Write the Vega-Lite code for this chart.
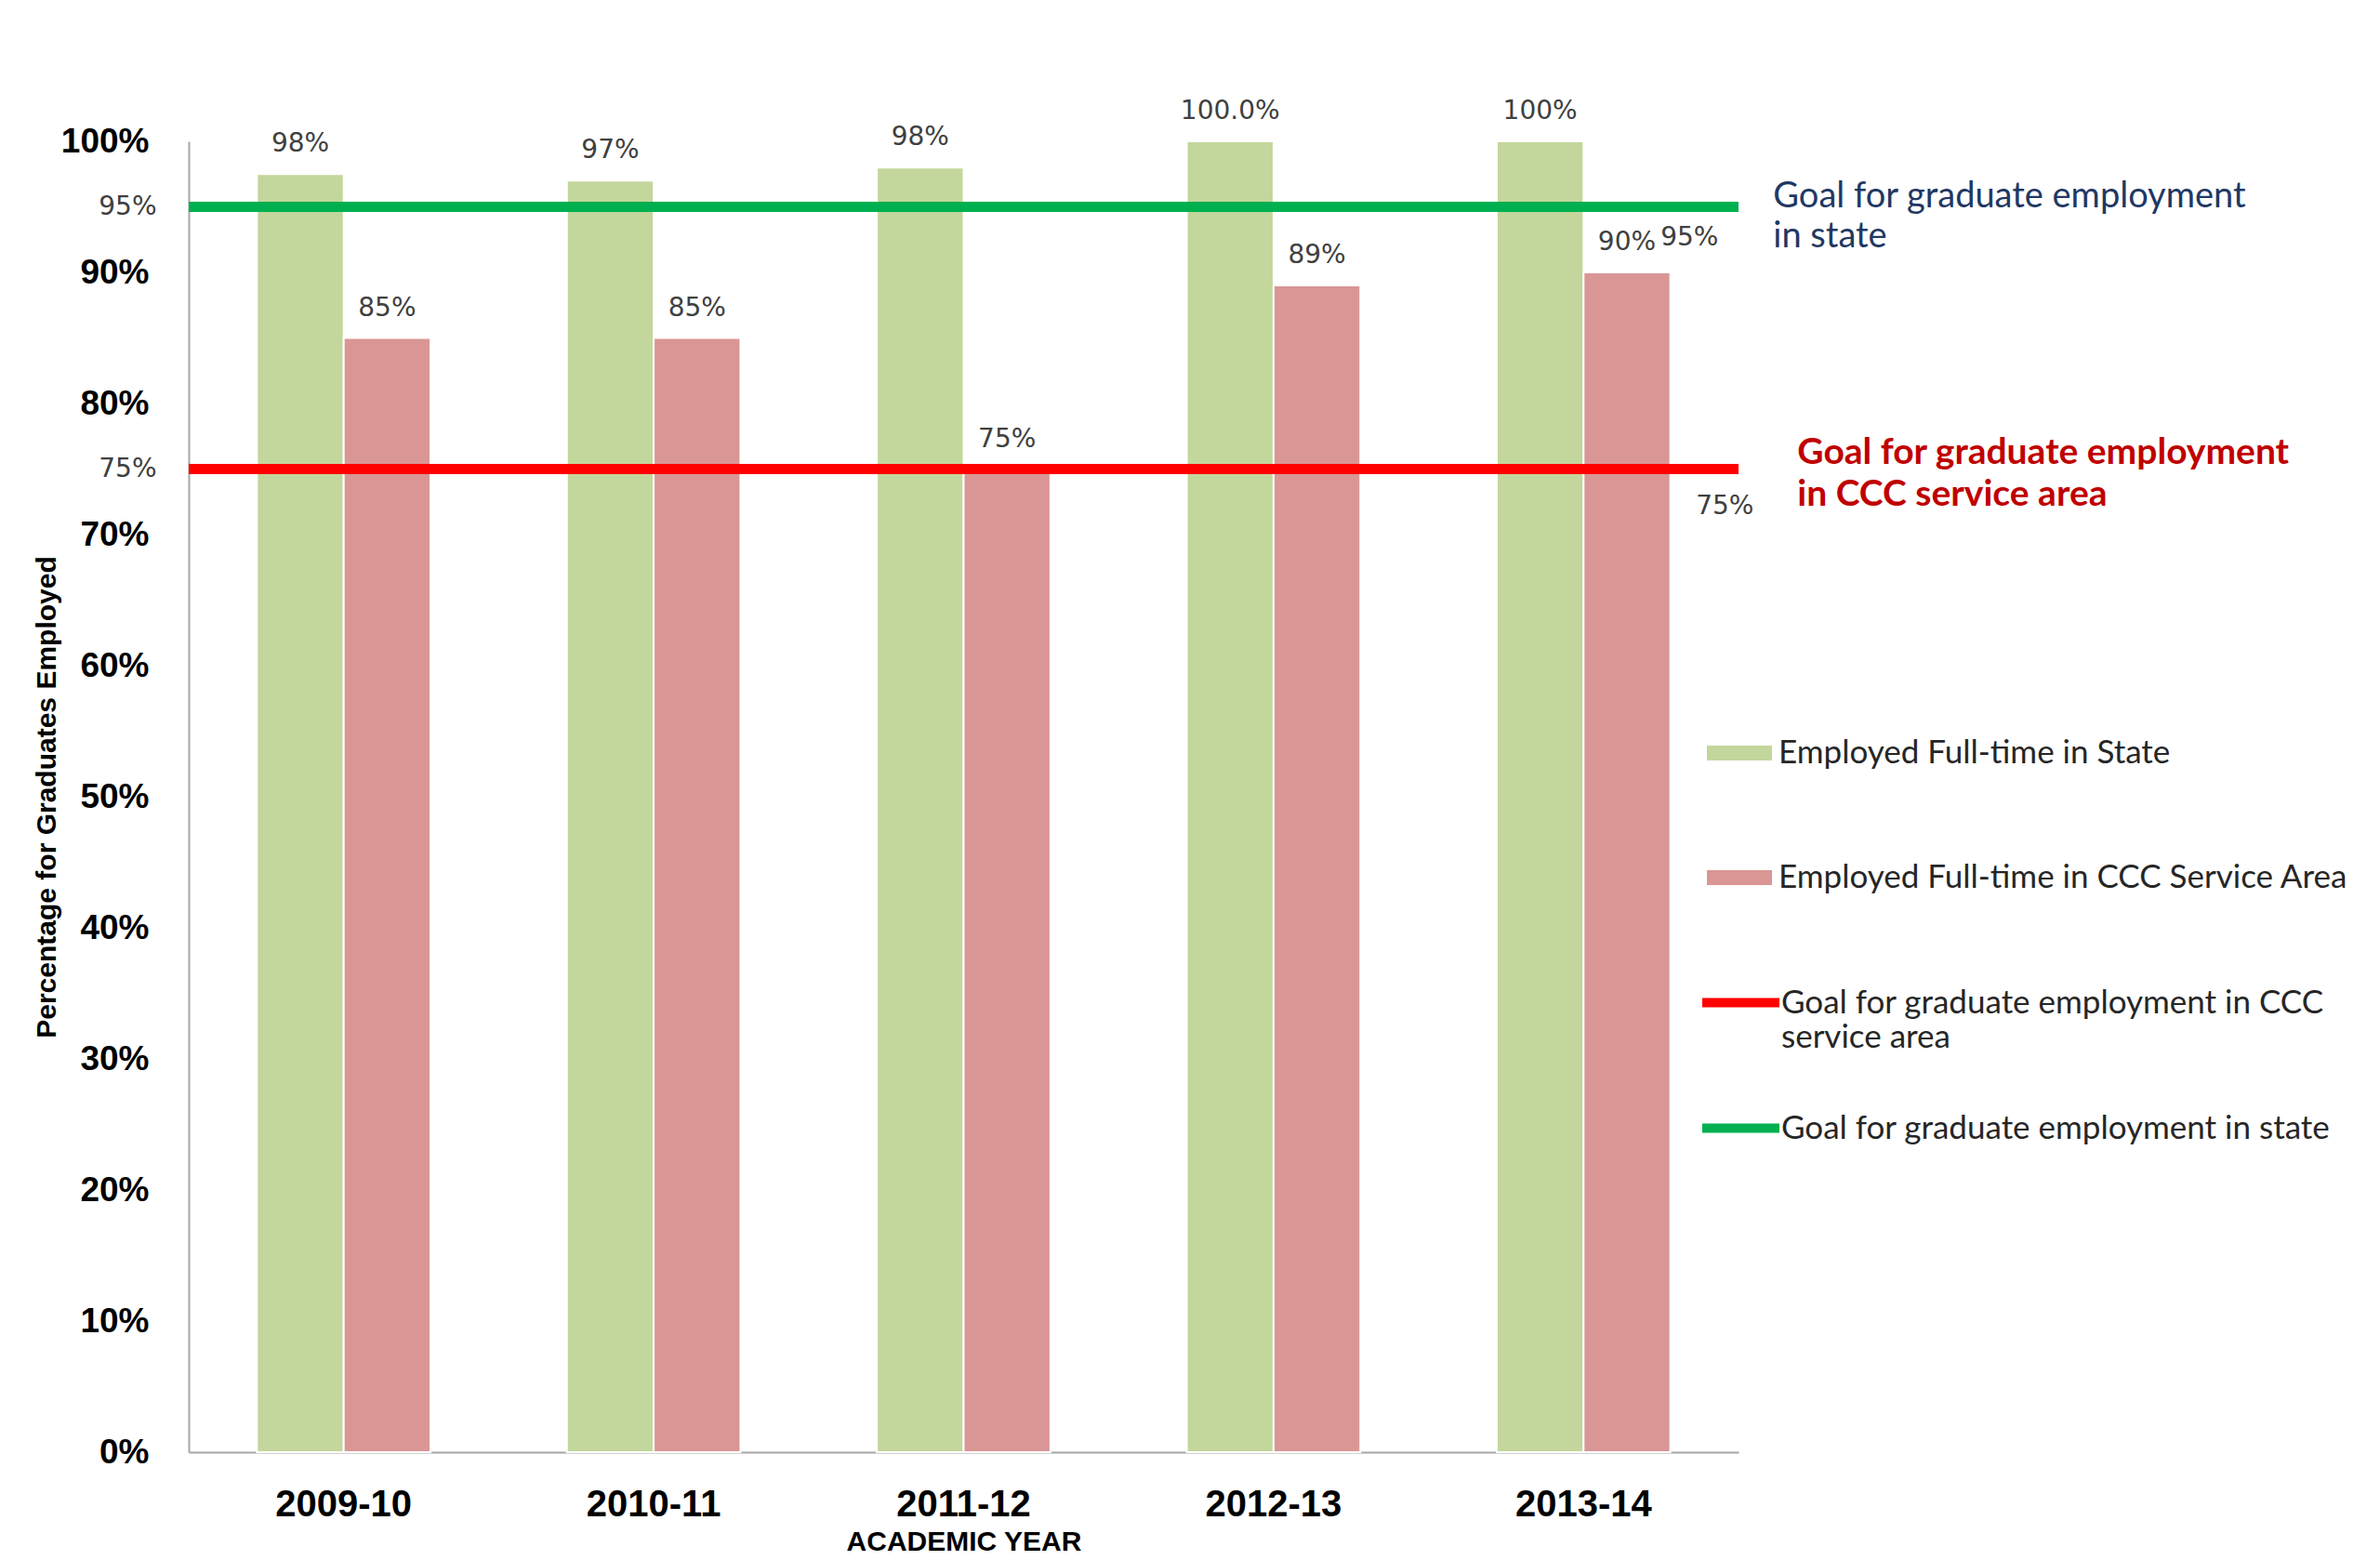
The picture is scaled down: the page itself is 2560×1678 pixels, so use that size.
{
  "$schema": "https://vega.github.io/schema/vega-lite/v6.json",
  "width": 1667,
  "height": 1410,
  "autosize": {"type": "none"},
  "padding": {"left": 203, "top": 152, "right": 690, "bottom": 116},
  "background": "white",
  "config": {"view": {"stroke": null}},
  "datasets": {
    "bars": [
      {"year": "2009-10", "series": "Employed Full-time in State", "value": 97.5, "label": "98%"},
      {"year": "2009-10", "series": "Employed Full-time in CCC Service Area", "value": 85, "label": "85%"},
      {"year": "2010-11", "series": "Employed Full-time in State", "value": 97, "label": "97%"},
      {"year": "2010-11", "series": "Employed Full-time in CCC Service Area", "value": 85, "label": "85%"},
      {"year": "2011-12", "series": "Employed Full-time in State", "value": 98, "label": "98%"},
      {"year": "2011-12", "series": "Employed Full-time in CCC Service Area", "value": 75, "label": "75%"},
      {"year": "2012-13", "series": "Employed Full-time in State", "value": 100, "label": "100.0%"},
      {"year": "2012-13", "series": "Employed Full-time in CCC Service Area", "value": 89, "label": "89%"},
      {"year": "2013-14", "series": "Employed Full-time in State", "value": 100, "label": "100%"},
      {"year": "2013-14", "series": "Employed Full-time in CCC Service Area", "value": 90, "label": "90%"}
    ],
    "goals": [
      {"goal": "Goal for graduate employment in CCC service area", "value": 75},
      {"goal": "Goal for graduate employment in state", "value": 95}
    ],
    "goalState": [{"year": "2013-14", "value": 95, "label": "95%", "note": "Goal for graduate employment|in state"}],
    "goalCCC": [{"year": "2013-14", "value": 75, "label": "75%", "note": "Goal for graduate employment|in CCC service area"}]
  },
  "layer": [
    {
      "data": {"name": "bars"},
      "mark": {"type": "bar", "stroke": "#FFFFFF", "strokeWidth": 2},
      "encoding": {
        "x": {
          "field": "year", "type": "nominal", "title": "ACADEMIC YEAR",
          "scale": {"paddingInner": 0.44, "paddingOuter": 0.22},
          "axis": {
            "labelAngle": 0, "ticks": false, "domainColor": "#A6A6A6", "domainWidth": 2,
            "labelFont": "Liberation Sans", "labelFontWeight": "bold", "labelFontSize": 40, "labelColor": "#000000", "labelPadding": 36,
            "titleFont": "Liberation Sans", "titleFontWeight": "bold", "titleFontSize": 30, "titleColor": "#000000", "titlePadding": 5
          }
        },
        "xOffset": {
          "field": "series", "type": "nominal",
          "scale": {"domain": ["Employed Full-time in State", "Employed Full-time in CCC Service Area"], "paddingInner": 0}
        },
        "y": {
          "field": "value", "type": "quantitative", "title": "Percentage for Graduates  Employed",
          "scale": {"domain": [0, 100], "nice": false},
          "axis": {
            "values": [0, 10, 20, 30, 40, 50, 60, 70, 75, 80, 90, 95, 100],
            "labelExpr": "datum.value + '%'",
            "grid": false, "ticks": false, "domainColor": "#A6A6A6", "domainWidth": 2, "labelOverlap": false,
            "labelFont": {"condition": {"test": "datum.value == 75 || datum.value == 95", "value": "DejaVu Sans"}, "value": "Liberation Sans"},
            "labelFontWeight": {"condition": {"test": "datum.value == 75 || datum.value == 95", "value": "normal"}, "value": "bold"},
            "labelFontSize": {"condition": {"test": "datum.value == 75 || datum.value == 95", "value": 28}, "value": 37},
            "labelColor": {"condition": {"test": "datum.value == 75 || datum.value == 95", "value": "#404040"}, "value": "#000000"},
            "labelPadding": {"condition": {"test": "datum.value == 75 || datum.value == 95", "value": 35}, "value": 43},
            "titleFont": "Liberation Sans", "titleFontWeight": "bold", "titleFontSize": 30, "titleColor": "#000000", "titlePadding": 0
          }
        },
        "color": {
          "field": "series", "type": "nominal",
          "scale": {
            "domain": ["Employed Full-time in State", "Employed Full-time in CCC Service Area"],
            "range": ["#C3D69B", "#D99694"]
          },
          "legend": {
            "orient": "none", "legendX": 1633, "legendY": 623, "title": null, "padding": 0,
            "symbolType": "M-1,-0.23H1V0.23H-1Z", "symbolSize": 4900, "symbolStrokeWidth": 0, "symbolOpacity": 1,
            "rowPadding": 81, "labelOffset": 7,
            "labelFont": "Lato", "labelFontSize": 35, "labelColor": "#262626", "labelLimit": 1000
          }
        }
      }
    },
    {
      "data": {"name": "bars"},
      "mark": {"type": "text", "font": "DejaVu Sans", "fontSize": 28, "color": "#404040", "baseline": "alphabetic", "dy": -24},
      "encoding": {
        "x": {"field": "year", "type": "nominal"},
        "xOffset": {"field": "series", "type": "nominal"},
        "y": {"field": "value", "type": "quantitative"},
        "text": {"field": "label", "type": "nominal"}
      }
    },
    {
      "data": {"name": "goals"},
      "mark": {"type": "rule", "strokeWidth": 11},
      "encoding": {
        "y": {"field": "value", "type": "quantitative"},
        "stroke": {
          "field": "goal", "type": "nominal",
          "scale": {
            "domain": ["Goal for graduate employment in CCC service area", "Goal for graduate employment in state"],
            "range": ["#FF0000", "#00B050"]
          },
          "legend": {
            "orient": "none", "legendX": 1623, "legendY": 880, "title": null, "padding": 0,
            "symbolType": "stroke", "symbolSize": 6889, "symbolStrokeWidth": 10, "symbolOpacity": 1,
            "rowPadding": 33, "labelOffset": -3,
            "labelFont": "Lato", "labelFontSize": 35, "labelColor": "#262626", "labelLimit": 1000,
            "labelExpr": "datum.label == 'Goal for graduate employment in CCC service area' ? ['Goal for graduate employment in CCC', 'service area'] : datum.label"
          }
        }
      }
    },
    {
      "data": {"name": "goalState"},
      "mark": {"type": "text", "font": "DejaVu Sans", "fontSize": 28, "color": "#404040", "baseline": "middle", "dx": 114, "dy": 33},
      "encoding": {
        "x": {"field": "year", "type": "nominal"},
        "y": {"field": "value", "type": "quantitative"},
        "text": {"field": "label", "type": "nominal"}
      }
    },
    {
      "data": {"name": "goalCCC"},
      "mark": {"type": "text", "font": "DejaVu Sans", "fontSize": 28, "color": "#404040", "baseline": "middle", "dx": 152, "dy": 40},
      "encoding": {
        "x": {"field": "year", "type": "nominal"},
        "y": {"field": "value", "type": "quantitative"},
        "text": {"field": "label", "type": "nominal"}
      }
    },
    {
      "data": {"name": "goalState"},
      "mark": {"type": "text", "font": "Lato", "fontSize": 38, "color": "#1F3864", "align": "left", "baseline": "alphabetic", "dx": 204, "dy": 0, "lineBreak": "|", "lineHeight": 43},
      "encoding": {
        "x": {"field": "year", "type": "nominal"},
        "y": {"field": "value", "type": "quantitative"},
        "text": {"field": "note", "type": "nominal"}
      }
    },
    {
      "data": {"name": "goalCCC"},
      "mark": {"type": "text", "font": "Lato", "fontSize": 39, "fontWeight": "bold", "color": "#C00000", "align": "left", "baseline": "alphabetic", "dx": 230, "dy": -6, "lineBreak": "|", "lineHeight": 45},
      "encoding": {
        "x": {"field": "year", "type": "nominal"},
        "y": {"field": "value", "type": "quantitative"},
        "text": {"field": "note", "type": "nominal"}
      }
    }
  ]
}
